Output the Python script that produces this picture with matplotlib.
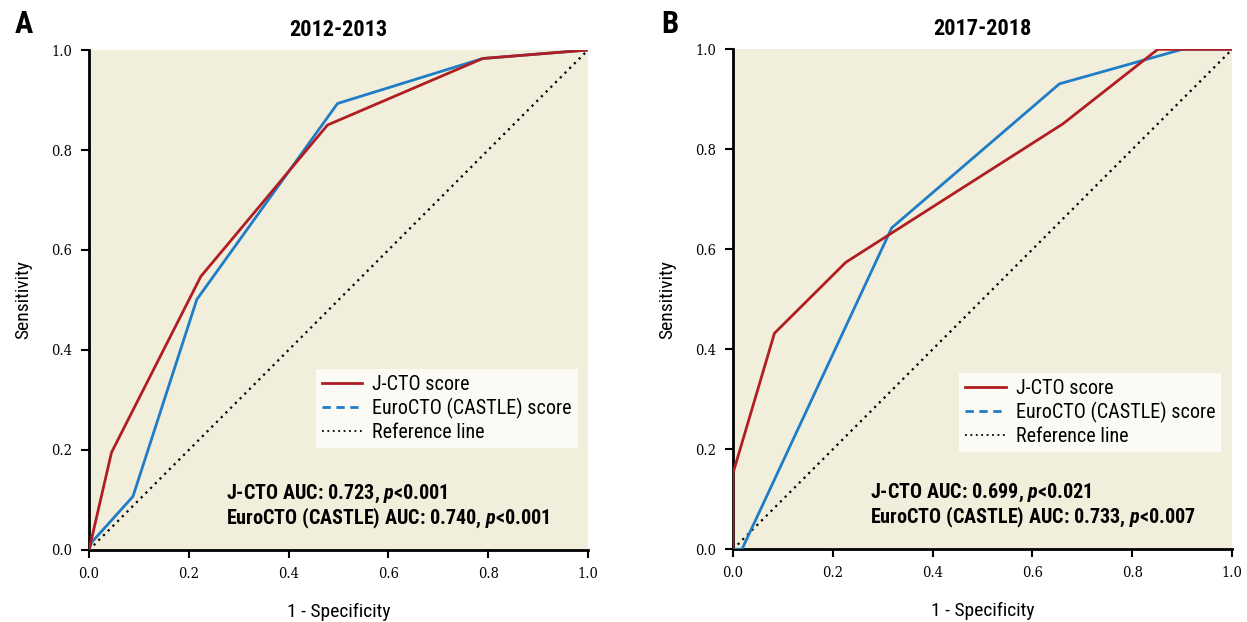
import matplotlib
matplotlib.use("Agg")
import matplotlib.pyplot as plt
from matplotlib.lines import Line2D

# ROC curve points (1 - specificity, sensitivity)
a_jcto_x = [0.0, 0.045, 0.224, 0.478, 0.789, 1.0]
a_jcto_y = [0.0, 0.195, 0.547, 0.850, 0.983, 1.0]
a_euro_x = [0.0, 0.005, 0.088, 0.216, 0.498, 0.789, 1.0]
a_euro_y = [0.0, 0.015, 0.107, 0.501, 0.893, 0.983, 1.0]

b_jcto_x = [0.0, 0.0, 0.083, 0.226, 0.661, 0.851, 1.0]
b_jcto_y = [0.0, 0.152, 0.432, 0.574, 0.851, 1.0, 1.0]
b_euro_x = [0.0, 0.018, 0.318, 0.654, 0.900, 1.0]
b_euro_y = [0.0, 0.0, 0.643, 0.931, 1.0, 1.0]

titles = ["2012-2013", "2017-2018"]
panel_letters = ["A", "B"]
auc_lines = [
    ["J-CTO AUC: 0.723, $p$<0.001", "EuroCTO (CASTLE) AUC: 0.740, $p$<0.001"],
    ["J-CTO AUC: 0.699, $p$<0.021", "EuroCTO (CASTLE) AUC: 0.733, $p$<0.007"],
]
legend_labels = ["J-CTO score", "EuroCTO (CASTLE) score", "Reference line"]
ticks = [0.0, 0.2, 0.4, 0.6, 0.8, 1.0]

NARROW = "Roboto Condensed"

plt.rcParams["mathtext.fontset"] = "custom"
plt.rcParams["mathtext.it"] = NARROW + ":italic:bold"
plt.rcParams["mathtext.rm"] = NARROW + ":bold"

RED = "#b01e22"
BLUE = "#1f7cc6"
BG = "#f2eedc"

fig = plt.figure(figsize=(12.47, 6.22), dpi=100)
axes = [fig.add_axes([0.0714, 0.1158, 0.4001, 0.8038]),
        fig.add_axes([0.5878, 0.1169, 0.4003, 0.8038])]

data = [(a_jcto_x, a_jcto_y, a_euro_x, a_euro_y),
        (b_jcto_x, b_jcto_y, b_euro_x, b_euro_y)]
legend_anchor = [(0.98, 0.204), (0.978, 0.194)]

for i, ax in enumerate(axes):
    jx, jy, ex, ey = data[i]
    ax.set_facecolor(BG)
    ax.plot([0, 1], [0, 1], color="black", linestyle=(0, (1, 2)), linewidth=1.6, zorder=2)
    ax.plot(ex, ey, color=BLUE, linewidth=2, zorder=3)
    ax.plot(jx, jy, color=RED, linewidth=2, zorder=4)

    ax.set_xlim(0, 1)
    ax.set_ylim(0, 1)
    ax.set_xticks(ticks)
    ax.set_yticks(ticks)
    ax.set_xticklabels([f"{t:.1f}" for t in ticks], fontfamily="DejaVu Serif",
                       fontstretch="condensed", fontsize=10.5)
    ax.set_yticklabels([f"{t:.1f}" for t in ticks], fontfamily="DejaVu Serif",
                       fontstretch="condensed", fontsize=10.5)
    ax.tick_params(direction="out", length=6, width=1.5, pad=6)
    for s in ["top", "right"]:
        ax.spines[s].set_visible(False)
    for s in ["left", "bottom"]:
        ax.spines[s].set_linewidth(2)

    ax.set_xlabel("1 - Specificity", fontfamily=NARROW, fontsize=14, labelpad=16)
    ax.set_ylabel("Sensitivity", fontfamily=NARROW, fontsize=14, labelpad=14)
    ax.set_title(titles[i], fontfamily=NARROW, fontweight="bold", fontsize=16, pad=10)

    handles = [Line2D([], [], color=RED, linewidth=2),
               Line2D([], [], color=BLUE, linewidth=2, linestyle=(0, (3, 2))),
               Line2D([], [], color="black", linewidth=1.3, linestyle=(0, (1, 2)))]
    leg = ax.legend(handles, legend_labels, loc="lower right",
                    bbox_to_anchor=legend_anchor[i], borderaxespad=0,
                    prop={"family": NARROW, "size": 14.5},
                    frameon=True, fancybox=False, handlelength=2.0,
                    handletextpad=0.5, labelspacing=0.2, borderpad=0.3)
    leg.get_frame().set_facecolor("#fbfaf4")
    leg.get_frame().set_edgecolor("none")
    leg.get_frame().set_alpha(1)

    for k, line in enumerate(auc_lines[i]):
        ax.text(0.275, 0.113 - k * 0.05, line, transform=ax.transAxes,
                fontfamily=NARROW, fontweight="bold", fontsize=14.5, va="center")

    letter_x = 0.012 if i == 0 else 0.530
    fig.text(letter_x, 0.962, panel_letters[i], fontfamily=NARROW,
             fontweight="bold", fontsize=22, va="center")

fig.savefig("out.png", dpi=100)
